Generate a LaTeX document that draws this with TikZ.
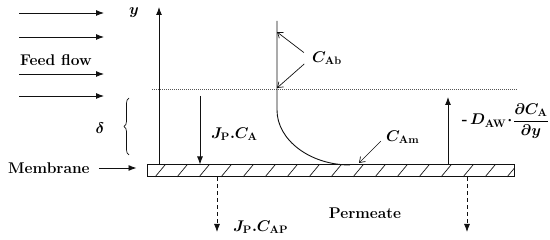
\RequirePackage{fix-cm}
\documentclass[tikz,border=0pt]{standalone}
\usepackage{amsmath}
\usepackage{bm}
\usepackage{tikz}
\usetikzlibrary{positioning,arrows.meta,decorations.pathreplacing}
\definecolor{tinta}{HTML}{111111}
\definecolor{punteo}{HTML}{555555}

\begin{document}
\begin{tikzpicture}[x=1pt, y=-1pt,
  font=\fontsize{15.5}{18}\selectfont\bfseries,
  flecha/.style={-{Latex[length=8pt,width=6pt]}, tinta, line width=0.9pt},
  fina/.style={-{Straight Barb[length=5pt,width=7pt]}, tinta, line width=0.7pt},
  salida/.style={-{Latex[length=8pt,width=6pt]}, tinta, line width=0.8pt, dash pattern=on 4pt off 3pt},
  rotulo/.style={inner sep=1pt}]
  \useasboundingbox (0,0) rectangle (550,240);
  \node[draw=tinta, line width=1pt, minimum width=367pt, minimum height=12pt, inner sep=0pt] (membrana) at (330.5,171) {};
  \begin{scope}
    \clip (membrana.south west) rectangle (membrana.north east);
    \foreach \k in {0,...,16}
      \draw[tinta, line width=0.7pt] (155+22*\k,177) -- (165+22*\k,165);
  \end{scope}
  \coordinate (ypunta) at (159,7);
  \draw[flecha, line width=1pt] (ypunta |- membrana.north) -- (ypunta);
  \node[rotulo] (ylab) at (134,13) {$\bm{y}$};
  \foreach \i/\yy in {1/13,2/37,3/74,4/96} {
    \coordinate (feedA\i) at (19,\yy);
    \coordinate (feedB\i) at (104,\yy);
    \draw[flecha] (feedA\i) -- (feedB\i);
  }
  \node[rotulo, anchor=west] (feed) at (19,60) {Feed flow};
  \coordinate (capaA) at (152,89);
  \coordinate (capaB) at (517,89);
  \draw[punteo, line width=0.6pt, dash pattern=on 0.8pt off 1.2pt] (capaA) -- (capaB);
  \coordinate (perfil) at (277,21);
  \coordinate (codo) at (277,110);
  \coordinate (pared) at (350,165);
  \draw[tinta, line width=0.9pt] (perfil) -- (codo) .. controls (277,140) and (310,165) .. (pared);
  \node[rotulo, anchor=west] (cab) at (311,58) {$\bm{C}_{\mathbf{Ab}}$};
  \coordinate (cabA) at (277,32);
  \coordinate (cabB) at (277,88);
  \draw[fina, shorten <=9pt] (cab.west) -- (cabA);
  \draw[fina, shorten <=9pt] (cab.west) -- (cabB);
  \node[rotulo, anchor=west] (cam) at (385,137) {$\bm{C}_{\mathbf{Am}}$};
  \coordinate (camP) at (359,163);
  \draw[fina, shorten <=6pt] (cam.west) -- (camP);
  \coordinate (jpunta) at (200,96);
  \draw[flecha] (jpunta) -- (jpunta |- membrana.north);
  \node[rotulo, anchor=west] (jpca) at (210,134) {$\bm{J}_{\mathbf{P}}\bm{.}\bm{C}_{\mathbf{A}}$};
  \coordinate (brazoA) at (129,155);
  \coordinate (brazoB) at (129,98);
  \draw[tinta, line width=0.7pt, decorate, decoration={brace, amplitude=5pt}] (brazoA) -- (brazoB);
  \node[rotulo] (delta) at (100,128) {$\bm{\delta}$};
  \node[rotulo, anchor=west] (memb) at (7,168) {Membrane};
  \draw[flecha, shorten <=8pt, shorten >=10pt] (memb.east) -- (memb.east -| membrana.west);
  \coordinate (dpunta) at (448,97);
  \draw[flecha] (dpunta |- membrana.north) -- (dpunta);
  \node[rotulo, anchor=east, inner sep=0pt] (flujo) at (549,121) {\textbf{-}\,$\bm{D}_{\mathbf{AW}}\!\bm{\cdot}\!\dfrac{\bm{\partial}\bm{C}_{\mathbf{A}}}{\bm{\partial}\bm{y}}$};
  \node[rotulo] (perm) at (365,213) {Permeate};
  \node[rotulo, anchor=west] (jpcap) at (232,227) {$\bm{J}_{\mathbf{P}}\bm{.}\bm{C}_{\mathbf{AP}}$};
  \coordinate (fuga1) at (217,232);
  \coordinate (fuga2) at (467,232);
  \foreach \f in {fuga1,fuga2}
    \draw[salida] (\f |- membrana.south) -- (\f);
\end{tikzpicture}
\end{document}
